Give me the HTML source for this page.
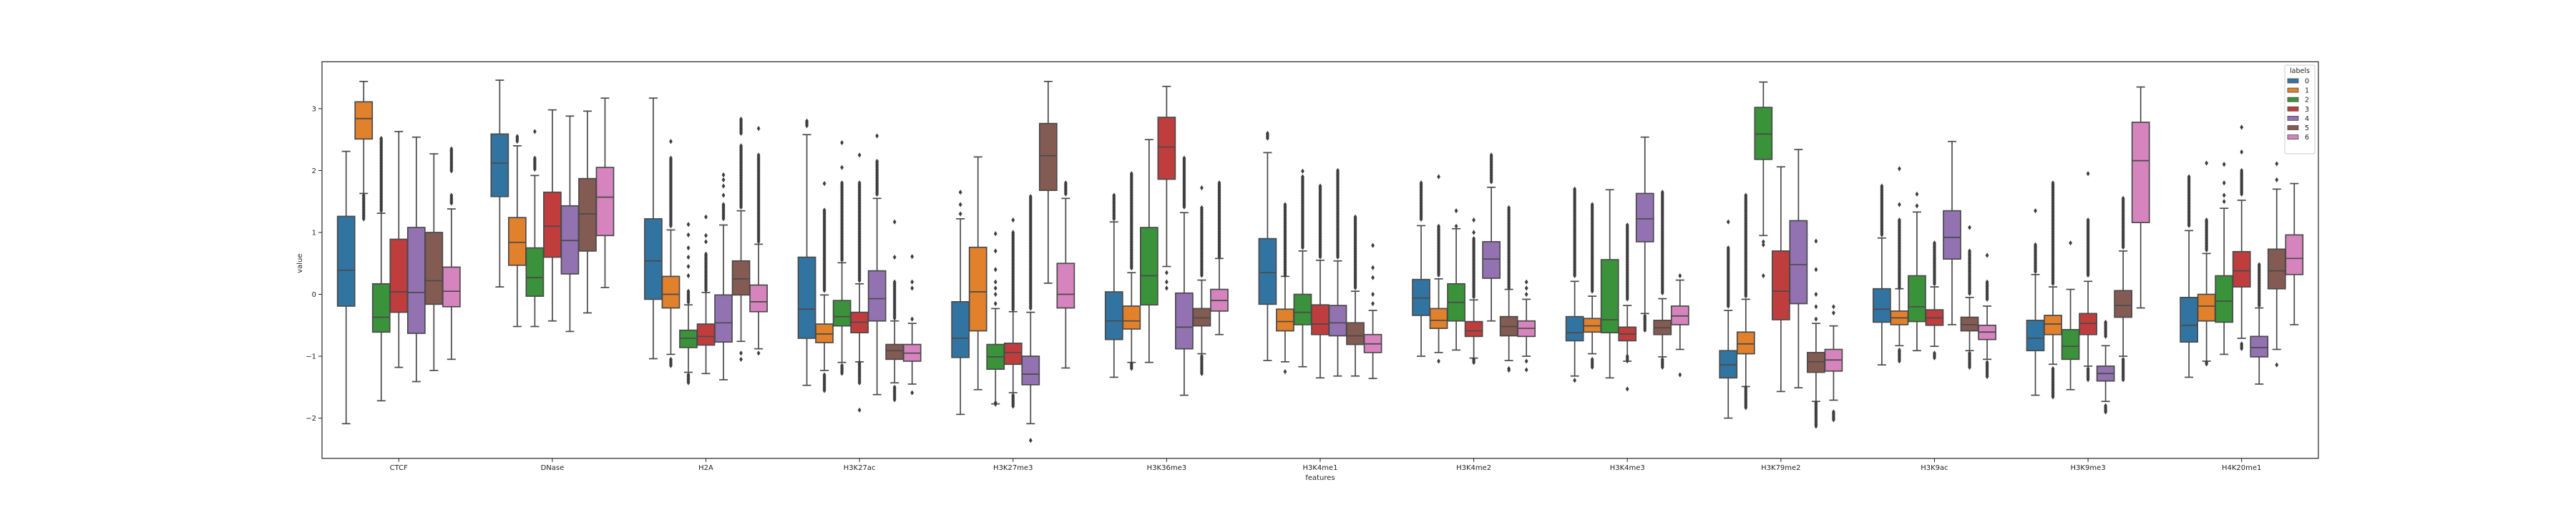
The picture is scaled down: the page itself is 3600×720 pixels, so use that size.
<!DOCTYPE html>
<html><head><meta charset="utf-8"><style>
html,body{margin:0;padding:0;background:#fff;}
svg{display:block;font-family:"DejaVu Sans","Liberation Sans",sans-serif;}
</style></head><body>
<svg id="chart" width="3600" height="720" viewBox="0 0 3600 720" xmlns="http://www.w3.org/2000/svg">
<rect x="0" y="0" width="3600" height="720" fill="#fff"/>
<g id="plot"></g>
<g id="axes"></g>
<g id="legend"></g>
</svg>
<script>
const features = ["CTCF","DNase","H2A","H3K27ac","H3K27me3","H3K36me3","H3K4me1","H3K4me2","H3K4me3","H3K79me2","H3K9ac","H3K9me3","H4K20me1"];
const labels = ["0","1","2","3","4","5","6"];
const yTicks = [-2,-1,0,1,2,3];
const whiskerLow = [
[-2.09,1.63,-1.72,-1.18,-1.41,-1.23,-1.05],
[0.12,-0.52,-0.52,-0.43,-0.60,-0.30,0.11],
[-1.04,-0.97,-1.26,-1.28,-1.38,-0.76,-0.88],
[-1.47,-1.23,-1.10,-1.09,-1.62,-1.43,-1.45],
[-1.94,-1.54,-1.77,-1.59,-2.09,0.18,-1.19],
[-1.34,-1.10,-1.10,0.45,-1.63,-0.96,-0.65],
[-1.07,-1.09,-1.17,-1.35,-1.32,-1.32,-1.36],
[-1.00,-0.94,-0.90,-1.03,-0.43,-1.07,-1.00],
[-1.32,-0.96,-1.35,-1.08,-0.31,-1.01,-0.89],
[-2.00,-1.49,0.95,-1.57,-1.51,-1.73,-1.71],
[-1.14,-0.83,-0.91,-0.84,-0.49,-0.91,-1.05],
[-1.63,-1.13,-1.54,-1.16,-1.73,-1.00,-0.22],
[-1.34,-1.08,-0.97,-0.71,-1.45,-0.89,-0.49]];
const q1 = [
[-0.19,2.51,-0.61,-0.29,-0.63,-0.16,-0.20],
[1.58,0.47,-0.03,0.60,0.33,0.70,0.95],
[-0.08,-0.22,-0.86,-0.82,-0.77,-0.01,-0.28],
[-0.71,-0.78,-0.51,-0.62,-0.43,-1.05,-1.08],
[-1.02,-0.59,-1.21,-1.13,-1.46,1.68,-0.22],
[-0.73,-0.56,-0.17,1.86,-0.88,-0.51,-0.27],
[-0.16,-0.59,-0.49,-0.65,-0.67,-0.81,-0.94],
[-0.34,-0.55,-0.43,-0.68,0.26,-0.67,-0.68],
[-0.75,-0.61,-0.62,-0.75,0.85,-0.65,-0.49],
[-1.35,-0.96,2.18,-0.41,-0.15,-1.26,-1.24],
[-0.45,-0.49,-0.44,-0.50,0.57,-0.59,-0.73],
[-0.91,-0.65,-1.05,-0.65,-1.40,-0.37,1.16],
[-0.77,-0.43,-0.45,0.12,-1.01,0.09,0.32]];
const median = [
[0.39,2.84,-0.37,0.04,0.03,0.22,0.05],
[2.12,0.84,0.27,1.10,0.87,1.30,1.57],
[0.54,0.00,-0.71,-0.68,-0.46,0.25,-0.12],
[-0.24,-0.64,-0.36,-0.45,-0.07,-0.91,-0.95],
[-0.71,0.04,-1.01,-0.94,-1.29,2.24,0.00],
[-0.43,-0.43,0.30,2.38,-0.53,-0.38,-0.10],
[0.35,-0.44,-0.29,-0.48,-0.46,-0.67,-0.80],
[-0.06,-0.42,-0.13,-0.59,0.57,-0.52,-0.55],
[-0.62,-0.51,-0.41,-0.64,1.22,-0.54,-0.35],
[-1.14,-0.80,2.59,0.05,0.48,-1.09,-1.06],
[-0.24,-0.38,-0.20,-0.38,0.92,-0.49,-0.61],
[-0.71,-0.48,-0.84,-0.47,-1.28,-0.18,2.16],
[-0.50,-0.19,-0.11,0.38,-0.86,0.38,0.58]];
const q3 = [
[1.26,3.11,0.17,0.89,1.08,1.00,0.44],
[2.59,1.24,0.75,1.65,1.43,1.87,2.05],
[1.22,0.29,-0.58,-0.48,-0.01,0.54,0.15],
[0.60,-0.48,-0.10,-0.29,0.38,-0.81,-0.81],
[-0.12,0.76,-0.81,-0.79,-1.00,2.76,0.50],
[0.04,-0.19,1.08,2.86,0.02,-0.23,0.08],
[0.90,-0.24,0.00,-0.17,-0.18,-0.46,-0.65],
[0.24,-0.23,0.17,-0.44,0.85,-0.36,-0.43],
[-0.36,-0.39,0.56,-0.53,1.63,-0.42,-0.19],
[-0.91,-0.61,3.02,0.70,1.19,-0.94,-0.89],
[0.09,-0.27,0.30,-0.25,1.35,-0.37,-0.50],
[-0.42,-0.34,-0.57,-0.31,-1.16,0.06,2.78],
[-0.05,0.00,0.30,0.69,-0.68,0.73,0.96]];
const whiskerHigh = [
[2.31,3.44,1.31,2.63,2.54,2.27,1.38],
[3.46,2.40,1.92,2.98,2.88,2.96,3.17],
[3.17,1.04,-0.17,0.03,1.12,1.35,0.81],
[2.58,-0.01,0.51,0.17,1.55,-0.43,-0.47],
[1.22,2.22,-0.23,-0.28,-0.29,3.44,1.55],
[1.17,0.35,2.50,3.36,1.32,0.23,0.58],
[2.29,0.29,0.70,0.55,0.54,0.05,-0.26],
[1.11,0.25,1.06,-0.09,1.73,0.08,-0.08],
[0.21,-0.03,1.69,-0.18,2.54,-0.07,0.23],
[-0.26,-0.08,3.43,2.06,2.34,-0.47,-0.51],
[0.91,0.09,1.33,0.12,2.47,-0.05,-0.19],
[0.32,0.12,0.08,0.21,-0.83,0.70,3.35],
[1.03,0.66,1.39,1.52,-0.22,1.70,1.79]];
// dense outlier stacks: [feature, label, low, high]
const outlierRanges = [
[0,1,1.2,1.6],[0,2,1.35,2.52],[0,6,1.45,1.6],[0,6,1.98,2.35],
[1,1,2.45,2.55],[1,2,2.0,2.2],
[2,1,1.1,2.2],[2,1,-1.17,-1.05],[2,2,-0.15,0.05],[2,2,-1.43,-1.3],[2,3,0.05,0.65],[2,4,1.2,1.45],[2,5,1.4,2.4],[2,5,2.6,2.83],[2,6,0.85,2.25],
[3,0,2.7,2.8],[3,1,0.05,1.36],[3,1,-1.57,-1.3],[3,2,0.55,1.8],[3,2,-1.3,-1.15],[3,3,0.2,1.8],[3,3,-1.45,-1.1],[3,4,1.6,2.15],[3,5,-0.4,0.2],[3,5,-1.71,-1.5],
[4,2,-1.8,-1.75],[4,3,-0.25,1.0],[4,3,-1.82,-1.63],[4,4,-0.25,1.58],[4,6,1.6,1.8],
[5,0,1.2,1.6],[5,1,0.4,1.95],[5,1,-1.22,-1.12],[5,4,1.4,2.2],[5,5,0.3,1.4],[5,5,-1.3,-1.0],[5,6,0.6,1.8],
[6,0,2.5,2.6],[6,1,0.3,1.45],[6,2,0.75,1.9],[6,3,0.6,1.75],[6,4,0.6,2.0],[6,5,0.1,1.25],
[7,0,1.2,1.8],[7,1,0.3,1.1],[7,3,-0.05,0.9],[7,3,-1.12,-1.05],[7,4,1.8,2.25],[7,5,0.1,1.4],[7,5,-1.25,-1.2],
[8,0,0.3,1.7],[8,1,0.05,1.45],[8,1,-1.2,-1.05],[8,3,-0.1,1.12],[8,3,-1.1,-1.0],[8,4,-0.6,-0.35],[8,5,0.0,1.65],[8,5,-1.2,-1.05],
[9,0,-0.2,0.75],[9,1,-0.05,1.6],[9,1,-1.85,-1.5],[9,5,-2.15,-1.75],[9,6,-2.05,-1.9],
[10,0,0.95,1.75],[10,1,0.1,1.2],[10,1,-1.1,-0.9],[10,3,0.15,0.83],[10,3,-1.03,-0.95],[10,5,0.0,0.7],[10,5,-1.2,-0.95],[10,6,-0.1,0.2],[10,6,-1.35,-1.1],
[11,0,0.35,0.8],[11,1,0.15,1.8],[11,1,-1.68,-1.2],[11,3,0.3,1.2],[11,3,-1.4,-1.2],[11,4,-0.7,-0.45],[11,4,-1.92,-1.8],[11,5,0.75,1.55],[11,5,-1.4,-1.05],
[12,0,1.1,1.9],[12,1,0.7,1.2],[12,1,-1.15,-1.1],[12,3,1.6,2.0],[12,3,-0.9,-0.8],[12,4,-0.2,0.48]];
// single outliers: [feature, label, value]
const outlierPoints = [
[1,2,2.63],
[2,1,2.47],[2,2,0.3],[2,2,0.45],[2,2,0.6],[2,2,0.75],[2,2,0.96],[2,2,1.13],[2,3,0.85],[2,3,0.95],[2,3,1.25],[2,4,1.6],[2,4,1.75],[2,4,1.85],[2,4,1.93],[2,5,-0.95],[2,5,-1.05],[2,6,2.68],[2,6,-0.95],
[3,1,1.79],[3,2,2.05],[3,2,2.45],[3,3,2.25],[3,3,-1.87],[3,4,2.56],[3,5,0.6],[3,5,1.17],[3,6,-0.4],[3,6,0.1],[3,6,0.2],[3,6,0.61],[3,6,-1.59],
[4,0,1.3],[4,0,1.45],[4,0,1.65],[4,2,-0.15],[4,2,0.0],[4,2,0.1],[4,2,0.2],[4,2,0.4],[4,2,0.7],[4,2,0.98],[4,3,1.2],[4,4,-2.36],
[5,3,0.1],[5,3,0.2],[5,3,0.35],[5,5,1.72],
[6,1,-1.25],[6,2,1.99],[6,6,-0.15],[6,6,0.0],[6,6,0.27],[6,6,0.43],[6,6,0.79],
[7,1,1.9],[7,1,-1.08],[7,2,1.1],[7,2,1.35],[7,3,1.0],[7,3,1.2],[7,6,0.0],[7,6,0.1],[7,6,0.2],[7,6,-1.08],[7,6,-1.22],
[8,0,-1.39],[8,3,-1.53],[8,6,0.3],[8,6,-1.3],
[9,0,1.17],[9,2,0.3],[9,2,0.8],[9,2,0.85],[9,5,-0.4],[9,5,-0.2],[9,5,0.0],[9,5,0.4],[9,5,0.86],[9,6,-0.2],[9,6,-0.3],
[10,1,1.45],[10,1,2.03],[10,2,1.43],[10,2,1.62],[10,5,1.08],[10,6,0.63],
[11,0,1.35],[11,2,0.83],[11,3,1.95],
[12,1,2.12],[12,2,1.5],[12,2,1.6],[12,2,1.8],[12,2,2.1],[12,3,2.3],[12,3,2.7],[12,5,1.85],[12,5,2.11],[12,5,-1.14]];

const colors = ["#3274a1","#e1812c","#3a923a","#c03d3e","#9372b2","#845b53","#d684bd"];
const AX = {left:450,right:3240,top:86.4,bottom:640.8,ymax:3.757,ymin:-2.65};
const NS = "http://www.w3.org/2000/svg";
function yScale(v){return AX.top+(AX.ymax-v)/(AX.ymax-AX.ymin)*(AX.bottom-AX.top);}
const catW = (AX.right-AX.left)/features.length;
const hueW = catW*0.8/labels.length;
function xCat(f){return AX.left+catW*(f+0.5);}
function xBox(f,l){return xCat(f)+(l-(labels.length-1)/2)*hueW;}
function mk(tag,attrs,parent){const e=document.createElementNS(NS,tag);for(const k in attrs)e.setAttribute(k,attrs[k]);parent.appendChild(e);return e;}
const plot=document.getElementById('plot'), axes=document.getElementById('axes'), legend=document.getElementById('legend');
const LC="#4a4a4a", BW=hueW*0.98;

function diamond(x,y,parent){
  const d=mk('path',{d:`M${x} ${y-3.6}L${x+2.4} ${y}L${x} ${y+3.6}L${x-2.4} ${y}Z`,fill:"#3d3d3d"},parent);
  
  
}
for(let f=0;f<features.length;f++){
  for(let l=0;l<labels.length;l++){
    const g=mk('g',{},plot);
    
    
    const x=xBox(f,l);
    const lo=yScale(whiskerLow[f][l]),hi=yScale(whiskerHigh[f][l]),a=yScale(q1[f][l]),b=yScale(q3[f][l]),m=yScale(median[f][l]);
    const w1=mk('line',{x1:x,x2:x,y1:a,y2:lo,stroke:LC,'stroke-width':1.7},g);
    
    
    const w2=mk('line',{x1:x,x2:x,y1:b,y2:hi,stroke:LC,'stroke-width':1.7},g);
    
    
    const c1=mk('line',{x1:x-BW/4,x2:x+BW/4,y1:lo,y2:lo,stroke:LC,'stroke-width':1.7},g);
    
    
    const c2=mk('line',{x1:x-BW/4,x2:x+BW/4,y1:hi,y2:hi,stroke:LC,'stroke-width':1.7},g);
    
    
    const r=mk('rect',{x:x-BW/2,y:b,width:BW,height:a-b,fill:colors[l],stroke:LC,'stroke-width':1.7},g);
    
    
    const md=mk('line',{x1:x-BW/2,x2:x+BW/2,y1:m,y2:m,stroke:LC,'stroke-width':1.7},g);
    
    
  }
}
const og=mk('g',{},plot);


outlierRanges.forEach(([f,l,lo,hi])=>{
  const x=xBox(f,l);const y1=yScale(hi),y2=yScale(lo);
  for(let y=y1;y<=y2+0.01;y+=2.2) diamond(x,y,og);
});
outlierPoints.forEach(([f,l,v])=>diamond(xBox(f,l),yScale(v),og));

// axes frame
const frame=mk('rect',{x:AX.left,y:AX.top,width:AX.right-AX.left,height:AX.bottom-AX.top,fill:"none",stroke:"#222",'stroke-width':1.2},axes);


yTicks.forEach(t=>{
  const y=yScale(t);
  const tk=mk('line',{x1:AX.left-5,x2:AX.left,y1:y,y2:y,stroke:"#222",'stroke-width':1},axes);
  
  
  const tx=mk('text',{x:AX.left-8,y:y+3.5,'text-anchor':'end','font-size':10,fill:"#222"},axes);
  tx.textContent=(t<0?'\u2212'+(-t):String(t));
  
  
});
features.forEach((name,f)=>{
  const x=xCat(f);
  const tk=mk('line',{x1:x,x2:x,y1:AX.bottom,y2:AX.bottom+5,stroke:"#222",'stroke-width':1},axes);
  
  
  const tx=mk('text',{x:x,y:AX.bottom+16,'text-anchor':'middle','font-size':10,fill:"#222"},axes);
  tx.textContent=name;
  
  
});
const xt=mk('text',{x:(AX.left+AX.right)/2,y:AX.bottom+30,'text-anchor':'middle','font-size':10,fill:"#222"},axes);
xt.textContent="features";


const yt=mk('text',{x:0,y:0,'text-anchor':'middle','font-size':10,fill:"#222",transform:`translate(422 ${yScale(0.5)}) rotate(-90)`},axes);
yt.textContent="value";



// legend
const lb=mk('rect',{x:3193,y:91,width:42,height:124,rx:2,fill:"#fff",stroke:"#ccc",'stroke-width':1},legend);


const lt=mk('text',{x:3214,y:102,'text-anchor':'middle','font-size':9.5,fill:"#222"},legend);
lt.textContent="labels";


labels.forEach((lab,i)=>{
  const y=113+i*13.1;
  const g=mk('g',{},legend);
  
  
  mk('rect',{x:3197,y:y-3,width:15,height:6,fill:colors[i],stroke:LC,'stroke-width':0.8},g);
  const t=mk('text',{x:3221,y:y+3.5,'font-size':9.5,fill:"#222"},g);
  t.textContent=lab;
});
</script>
</body></html>
